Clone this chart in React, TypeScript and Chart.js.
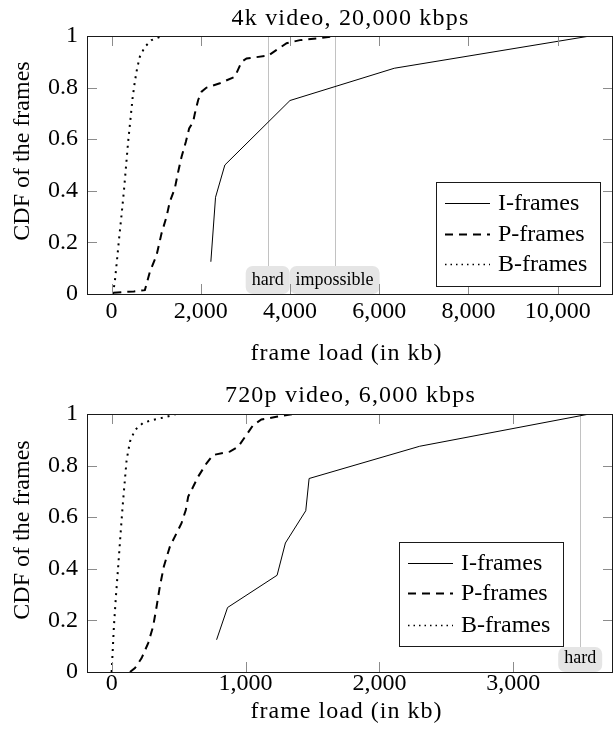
import React, { useEffect, useRef } from 'react';
import { Chart, registerables } from 'chart.js';

Chart.register(...registerables);

const FONT = '"Liberation Serif", "Times New Roman", serif';

const seriesNames = ['I-frames', 'P-frames', 'B-frames'];
const yTicks = [0, 0.2, 0.4, 0.6, 0.8, 1];

// ---------- 4k video, 20,000 kbps ----------
const title4k = '4k video, 20,000 kbps';
const xTicks4k = [0, 2000, 4000, 6000, 8000, 10000];
const iFrames4kX = [2226, 2331, 2540, 4000, 6337, 10724];
const iFrames4kY = [0.125, 0.375, 0.5, 0.75, 0.875, 1];
const pFrames4kX = [40, 500, 747, 859, 1009, 1121, 1233, 1307, 1419, 1494, 1570, 1666, 1740, 1830, 1868, 1942, 2018, 2130, 2428, 2765, 2915, 3027, 3511, 3700, 3924, 4222, 4596, 5007];
const pFrames4kY = [0.005, 0.01, 0.015, 0.086, 0.15, 0.235, 0.3, 0.358, 0.41, 0.474, 0.532, 0.59, 0.642, 0.668, 0.7, 0.752, 0.784, 0.8, 0.817, 0.842, 0.9, 0.913, 0.924, 0.946, 0.972, 0.984, 0.99, 1];
const bFrames4kX = [30, 74, 126, 170, 224, 276, 321, 372, 426, 471, 522, 574, 635, 747, 897, 1083, 1195];
const bFrames4kY = [0.0, 0.048, 0.138, 0.216, 0.306, 0.397, 0.487, 0.59, 0.681, 0.758, 0.823, 0.875, 0.92, 0.958, 0.984, 0.997, 1];
const markers4k = [3500, 5000];
const markerLabels4k = ['hard', 'impossible'];

// ---------- 720p video, 6,000 kbps ----------
const title720 = '720p video, 6,000 kbps';
const xTicks720 = [0, 1000, 2000, 3000];
const iFrames720X = [784, 866, 1236, 1298, 1450, 1475, 2301, 3569];
const iFrames720Y = [0.125, 0.25, 0.375, 0.5, 0.625, 0.75, 0.875, 1];
const pFrames720X = [137, 174, 224, 273, 310, 336, 360, 390, 435, 485, 522, 554, 572, 609, 646, 709, 758, 883, 945, 1007, 1057, 1119, 1231, 1355];
const pFrames720Y = [0, 0.015, 0.054, 0.112, 0.177, 0.254, 0.331, 0.409, 0.486, 0.538, 0.577, 0.628, 0.68, 0.718, 0.757, 0.809, 0.841, 0.854, 0.873, 0.919, 0.957, 0.979, 0.989, 1];
const bFrames720X = [0, 7, 17, 32, 49, 67, 82, 99, 112, 137, 174, 236, 323, 410, 485];
const bFrames720Y = [0, 0.072, 0.177, 0.293, 0.409, 0.538, 0.641, 0.745, 0.822, 0.893, 0.938, 0.966, 0.979, 0.989, 1];
const markers720 = [3500];
const markerLabels720 = ['hard'];

const xLabel = 'frame load (in kb)';
const yLabel = 'CDF of the frames';

const styles = [
  { width: 1, dash: [] as number[] },
  { width: 2, dash: [8, 6] },
  { width: 2, dash: [2, 5] },
];

type Panel = {
  title: string;
  xMin: number;
  xMax: number;
  xTicks: number[];
  xs: number[][];
  ys: number[][];
  markers: number[];
  markerLabels: string[];
  areaTop: number;
  areaBottom: number;
  canvasH: number;
  tickPad: number;
  titleY: number;
  xLabelY: number;
  yLabelY: number;
  legend: { x: number; y: number; w: number; h: number; sx: number; tx: number; rows: number[] };
  boxH: number;
};

const W = 614;

const panels: Panel[] = [
  {
    title: title4k,
    xMin: -550,
    xMax: 11240,
    xTicks: xTicks4k,
    xs: [iFrames4kX, pFrames4kX, bFrames4kX],
    ys: [iFrames4kY, pFrames4kY, bFrames4kY],
    markers: markers4k,
    markerLabels: markerLabels4k,
    areaTop: 36,
    areaBottom: 294,
    canvasH: 373,
    tickPad: 6,
    titleY: 25,
    xLabelY: 360,
    yLabelY: 151,
    legend: { x: 436, y: 182, w: 164, h: 104, sx: 445, tx: 498, rows: [203, 234, 264] },
    boxH: 28,
  },
  {
    title: title720,
    xMin: -184,
    xMax: 3745,
    xTicks: xTicks720,
    xs: [iFrames720X, pFrames720X, bFrames720X],
    ys: [iFrames720Y, pFrames720Y, bFrames720Y],
    markers: markers720,
    markerLabels: markerLabels720,
    areaTop: 41,
    areaBottom: 299,
    canvasH: 373,
    tickPad: 0,
    titleY: 29,
    xLabelY: 345,
    yLabelY: 157,
    legend: { x: 399, y: 169, w: 164, h: 104, sx: 408, tx: 461, rows: [190, 220, 252] },
    boxH: 25,
  },
];

function makeDecor(p: Panel) {
  return {
    id: 'decor',
    beforeDatasetsDraw(chart: any) {
      const { ctx, chartArea: a } = chart;
      const x = chart.scales.x;
      ctx.save();
      ctx.strokeStyle = '#c2c2c2';
      ctx.lineWidth = 1;
      p.markers.forEach((v) => {
        const px = Math.round(x.getPixelForValue(v)) + 0.5;
        ctx.beginPath();
        ctx.moveTo(px, a.top);
        ctx.lineTo(px, a.bottom);
        ctx.stroke();
      });
      ctx.font = `18px ${FONT}`;
      p.markers.forEach((v, i) => {
        const px = x.getPixelForValue(v);
        const label = p.markerLabels[i];
        const w = ctx.measureText(label).width + 12;
        ctx.fillStyle = '#e5e5e5';
        ctx.beginPath();
        ctx.roundRect(px - w / 2, a.bottom - p.boxH, w, p.boxH, 7);
        ctx.fill();
        ctx.fillStyle = '#000';
        ctx.textAlign = 'center';
        ctx.textBaseline = 'alphabetic';
        ctx.fillText(label, px, a.bottom - 9);
      });
      ctx.restore();
    },
    afterDraw(chart: any) {
      const { ctx, chartArea: a } = chart;
      const x = chart.scales.x;
      const y = chart.scales.y;
      ctx.save();
      // inward tick marks on all four sides
      ctx.strokeStyle = '#8c8c8c';
      ctx.lineWidth = 1;
      const TL = 10;
      x.ticks.forEach((t: any) => {
        const px = Math.round(x.getPixelForValue(t.value)) + 0.5;
        ctx.beginPath();
        ctx.moveTo(px, a.top);
        ctx.lineTo(px, a.top + TL);
        ctx.moveTo(px, a.bottom);
        ctx.lineTo(px, a.bottom - TL);
        ctx.stroke();
      });
      y.ticks.forEach((t: any) => {
        const py = Math.round(y.getPixelForValue(t.value)) + 0.5;
        ctx.beginPath();
        ctx.moveTo(a.left, py);
        ctx.lineTo(a.left + TL, py);
        ctx.moveTo(a.right, py);
        ctx.lineTo(a.right - TL, py);
        ctx.stroke();
      });
      // frame
      ctx.strokeStyle = '#1a1a1a';
      ctx.strokeRect(a.left + 0.5, a.top + 0.5, a.right - a.left - 1, a.bottom - a.top);
      // legend
      const L = p.legend;
      ctx.fillStyle = '#fff';
      ctx.fillRect(L.x, L.y, L.w, L.h);
      ctx.strokeStyle = '#1a1a1a';
      ctx.lineWidth = 1;
      ctx.strokeRect(L.x + 0.5, L.y + 0.5, L.w, L.h);
      ctx.font = `24px ${FONT}`;
      ctx.textAlign = 'left';
      ctx.textBaseline = 'middle';
      chart.data.datasets.forEach((ds: any, i: number) => {
        const ry = L.rows[i];
        ctx.save();
        ctx.strokeStyle = '#000';
        ctx.lineWidth = i === 2 ? 1.5 : ds.borderWidth;
        ctx.setLineDash(i === 2 ? [1.5, 4] : ds.borderDash || []);
        ctx.beginPath();
        ctx.moveTo(L.sx, ry + 0.5);
        ctx.lineTo(L.sx + 45, ry + 0.5);
        ctx.stroke();
        ctx.restore();
        ctx.fillStyle = '#000';
        ctx.fillText(ds.label, L.tx, ry + 1);
      });
      // titles
      ctx.fillStyle = '#000';
      ctx.textAlign = 'center';
      ctx.textBaseline = 'alphabetic';
      const cx = (a.left + 614) / 2;
      ctx.save();
      (ctx as any).letterSpacing = '1.2px';
      ctx.fillText(p.title, cx, p.titleY);
      (ctx as any).letterSpacing = '1px';
      ctx.fillText(xLabel, cx - 4, p.xLabelY);
      ctx.restore();
      ctx.save();
      ctx.translate(29, p.yLabelY);
      ctx.rotate(-Math.PI / 2);
      ctx.fillText(yLabel, 0, 0);
      ctx.restore();
      ctx.restore();
    },
  };
}

function ChartPanel({ p, top }: { p: Panel; top: number }) {
  const ref = useRef<HTMLCanvasElement | null>(null);
  useEffect(() => {
    if (!ref.current) return;
    const chart = new Chart(ref.current, {
      type: 'line',
      data: {
        datasets: p.xs.map((xs, i) => ({
          label: seriesNames[i],
          data: xs.map((xv, j) => ({ x: xv, y: p.ys[i][j] })),
          borderColor: '#000',
          backgroundColor: '#000',
          borderWidth: styles[i].width,
          borderDash: styles[i].dash,
          pointRadius: 0,
          fill: false,
          tension: 0,
        })),
      },
      options: {
        responsive: false,
        animation: false,
        events: [],
        layout: { padding: { top: p.areaTop, right: 1, left: 0, bottom: 0 } },
        plugins: { legend: { display: false }, tooltip: { enabled: false }, title: { display: false } },
        scales: {
          x: {
            type: 'linear',
            min: p.xMin,
            max: p.xMax,
            afterBuildTicks: (s: any) => {
              s.ticks = p.xTicks.map((v) => ({ value: v }));
            },
            afterFit: (s: any) => {
              s.height = p.canvasH - p.areaBottom;
            },
            grid: { display: false, drawTicks: false },
            border: { display: false },
            ticks: {
              padding: p.tickPad,
              color: '#000',
              maxRotation: 0,
              autoSkip: false,
              font: { family: FONT, size: 24, lineHeight: 1 },
              callback: (v: any) => Number(v).toLocaleString('en-US'),
            },
          },
          y: {
            type: 'linear',
            min: 0,
            max: 1,
            afterBuildTicks: (s: any) => {
              s.ticks = yTicks.map((v) => ({ value: v }));
            },
            afterFit: (s: any) => {
              s.width = 87;
            },
            grid: { display: false, drawTicks: false },
            border: { display: false },
            ticks: {
              padding: 9,
              color: '#000',
              autoSkip: false,
              font: { family: FONT, size: 24, lineHeight: 1 },
              callback: (v: any) => String(Math.round(Number(v) * 10) / 10),
            },
          },
        },
      },
      plugins: [makeDecor(p)],
    } as any);
    return () => chart.destroy();
  }, [p]);
  return (
    <canvas
      ref={ref}
      width={W}
      height={p.canvasH}
      style={{ position: 'absolute', left: 0, top, width: W, height: p.canvasH, display: 'block' }}
    />
  );
}

export default function App() {
  return (
    <div style={{ position: 'absolute', left: 0, top: 0, width: W, height: 746, background: '#fff', overflow: 'hidden' }}>
      <ChartPanel p={panels[0]} top={0} />
      <ChartPanel p={panels[1]} top={373} />
    </div>
  );
}
